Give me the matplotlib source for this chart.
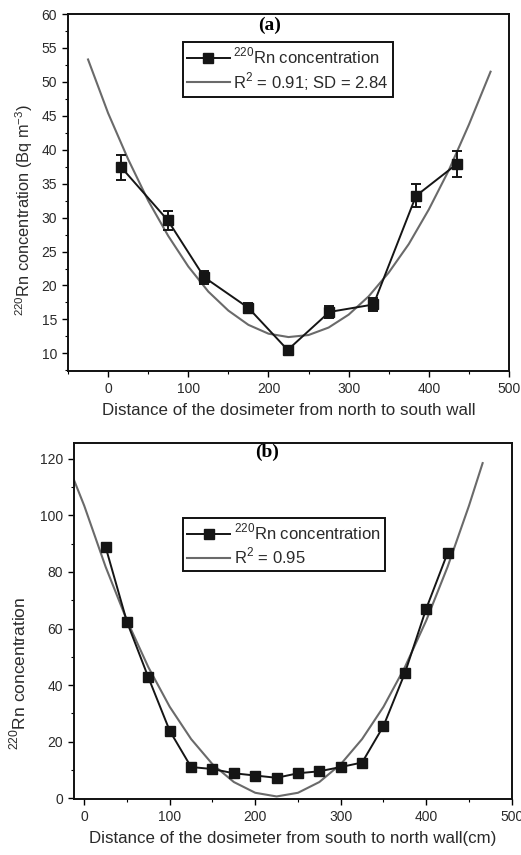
import matplotlib
matplotlib.use("Agg")
import matplotlib.pyplot as plt
from matplotlib.ticker import MultipleLocator

plt.rcParams['font.family'] = ['Liberation Sans', 'DejaVu Sans']
plt.rcParams['mathtext.fontset'] = 'custom'
plt.rcParams['mathtext.rm'] = 'Liberation Sans'

# ---------------- Panel (a) data ----------------
a_x = [16.5, 74.5, 120, 175, 224, 276, 331, 384, 435]
a_y = [37.4, 29.6, 21.2, 16.7, 10.5, 16.1, 17.2, 33.2, 37.9]
a_err = [1.8, 1.4, 1.0, 0.7, 0.0, 0.9, 1.0, 1.7, 1.9]
a_fit_x = [-25, 0, 25, 50, 75, 100, 125, 150, 175, 200, 225, 250, 275,
           300, 325, 350, 375, 400, 425, 450, 477]
a_fit_y = [53.3, 45.4, 38.6, 32.5, 27.3, 22.8, 19.1, 16.3, 14.2, 12.9, 12.4,
           12.7, 13.8, 15.7, 18.4, 21.9, 26.1, 31.2, 37.0, 43.7, 51.5]
a_label_data = r'$^{220}$Rn concentration'
a_label_fit = r'R$^{2}$ = 0.91; SD = 2.84'
a_xlabel = 'Distance of the dosimeter from north to south wall'
a_ylabel = r'$^{220}$Rn concentration (Bq m$^{-3}$)'

# ---------------- Panel (b) data ----------------
b_x = [25, 50, 75, 100, 125, 150, 175, 200, 225, 250, 275, 300, 325, 350,
       375, 400, 425]
b_y = [88.8, 62.3, 42.7, 23.8, 11.0, 10.3, 8.8, 8.0, 7.2, 8.8, 9.5, 11.0,
       12.6, 25.5, 44.2, 67.0, 86.7]
b_fit_x = [-12, 0, 25, 50, 75, 100, 125, 150, 175, 200, 225, 250, 275, 300,
           325, 350, 375, 400, 425, 450, 466]
b_fit_y = [112.5, 103.4, 81.8, 62.8, 46.3, 32.3, 20.9, 12.0, 5.7, 1.9, 0.6,
           1.9, 5.7, 12.0, 20.9, 32.3, 46.3, 62.8, 81.8, 103.4, 118.5]
b_label_data = r'$^{220}$Rn concentration'
b_label_fit = r'R$^{2}$ = 0.95'
b_xlabel = 'Distance of the dosimeter from south to north wall(cm)'
b_ylabel = r'$^{220}$Rn concentration'

W, H = 521, 855
fig = plt.figure(figsize=(W / 100, H / 100), dpi=100)

txt = '#2a2a2a'
fit_col = '#6a6a6a'
dat_col = '#151515'


def style_axes(ax):
    for s in ax.spines.values():
        s.set_linewidth(1.4)
        s.set_color('#111111')
    ax.tick_params(which='major', direction='out', length=4, width=1.0,
                   labelsize=10, labelcolor=txt, top=False, right=False,
                   pad=4)
    ax.tick_params(which='minor', direction='out', length=2.5, width=0.8,
                   top=False, right=False)


def make_legend(ax, anchor):
    h, l = ax.get_legend_handles_labels()
    leg = ax.legend([h[1], h[0]], [l[1], l[0]], loc='upper left',
                    bbox_to_anchor=anchor, borderaxespad=0,
                    fontsize=12, fancybox=False, framealpha=1,
                    edgecolor='#111111', handlelength=2.6, handletextpad=0.2,
                    borderpad=0.25, labelspacing=0.2)
    leg.get_frame().set_linewidth(1.4)
    for t in leg.get_texts():
        t.set_color(txt)
    return leg


# Panel (a)
ax1 = fig.add_axes([68 / W, 1 - 371 / H, (509 - 68) / W, (371 - 14) / H])
ax1.plot(a_fit_x, a_fit_y, color=fit_col, lw=1.5, label=a_label_fit, zorder=2)
ax1.errorbar(a_x, a_y, yerr=a_err, fmt='none', ecolor=dat_col,
             capsize=3.5, capthick=1.4, elinewidth=1.4, zorder=3)
ax1.plot(a_x, a_y, color=dat_col, lw=1.4, marker='s', markersize=7,
         label=a_label_data, zorder=4)
ax1.set_xlim(-50, 500)
ax1.set_ylim(7.4, 60)
ax1.xaxis.set_major_locator(MultipleLocator(100))
ax1.xaxis.set_minor_locator(MultipleLocator(50))
ax1.yaxis.set_major_locator(MultipleLocator(5))
ax1.yaxis.set_minor_locator(MultipleLocator(2.5))
style_axes(ax1)
ax1.set_xlabel(a_xlabel, fontsize=12.2, color=txt, labelpad=5)
ax1.set_ylabel(a_ylabel, fontsize=11.8, color=txt)
ax1.yaxis.set_label_coords(-0.075, 0.45)
make_legend(ax1, (0.26, 0.922))
fig.text(270 / W, 1 - 25 / H, '(a)', fontsize=14, fontweight='bold',
         family='Liberation Serif', ha='center', va='center')

# Panel (b)
ax2 = fig.add_axes([74 / W, 1 - 799 / H, (511.7 - 74) / W, (799 - 443.3) / H])
ax2.plot(b_fit_x, b_fit_y, color=fit_col, lw=1.5, label=b_label_fit, zorder=2)
ax2.plot(b_x, b_y, color=dat_col, lw=1.4, marker='s', markersize=7,
         label=b_label_data, zorder=3)
ax2.set_xlim(-12, 500)
ax2.set_ylim(-0.3, 125.5)
ax2.xaxis.set_major_locator(MultipleLocator(100))
ax2.xaxis.set_minor_locator(MultipleLocator(50))
ax2.yaxis.set_major_locator(MultipleLocator(20))
ax2.yaxis.set_minor_locator(MultipleLocator(10))
style_axes(ax2)
ax2.set_xlabel(b_xlabel, fontsize=12.2, color=txt, labelpad=5)
ax2.set_ylabel(b_ylabel, fontsize=12.5, color=txt)
ax2.yaxis.set_label_coords(-0.105, 0.354)
make_legend(ax2, (0.249, 0.791))
fig.text(267 / W, 1 - 452 / H, '(b)', fontsize=14, fontweight='bold',
         family='Liberation Serif', ha='center', va='center')

fig.savefig('out.png', dpi=100)
